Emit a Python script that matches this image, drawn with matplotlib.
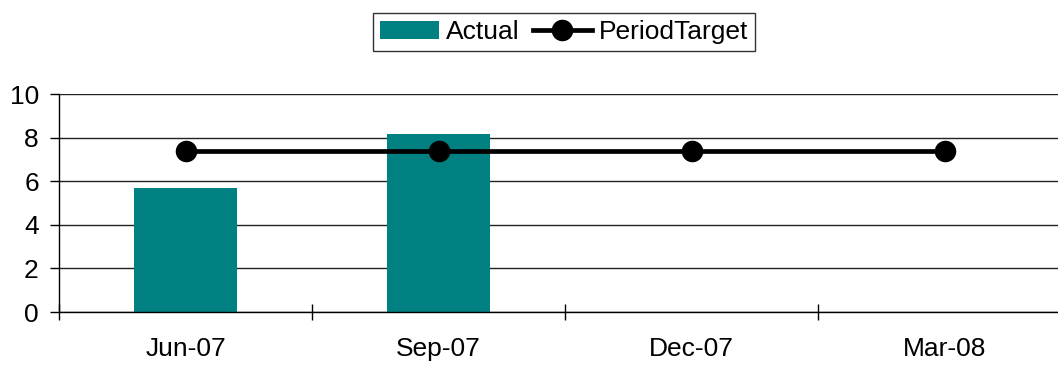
import matplotlib
matplotlib.use('Agg')
import matplotlib.pyplot as plt
import numpy as np

plt.rcParams['font.family'] = ['Liberation Sans', 'DejaVu Sans']

# Data
periods = ['Jun-07', 'Sep-07', 'Dec-07', 'Mar-08']
actual = [5.7, 8.15, np.nan, np.nan]
period_target = [7.4, 7.4, 7.4, 7.4]

fig = plt.figure(figsize=(10.58, 3.65), dpi=100)
# plot area runs past the right edge, as in the original
ax = fig.add_axes([59 / 1058, 53 / 365, 1012 / 1058, 218 / 365])

x = np.arange(len(periods))
bars = ax.bar(x, actual, width=0.41, color='#008080', label='Actual', zorder=2)
line, = ax.plot(x, period_target, color='black', linewidth=3.4, marker='o',
                markersize=14.5, label='PeriodTarget', zorder=3)

ax.set_xlim(-0.5, len(periods) - 0.5)
ax.set_ylim(0, 10)
ax.set_yticks(np.arange(0, 11, 2))
ax.yaxis.grid(True, color='#222222', linewidth=1.0, zorder=0)
ax.set_axisbelow(True)

# category ticks sit between the labels
ax.set_xticks(np.arange(-0.5, len(periods), 1))
ax.set_xticklabels([])
ax.set_xticks(x, minor=True)
ax.set_xticklabels(periods, minor=True)
ax.tick_params(axis='x', which='major', length=11, width=1, direction='inout')
ax.tick_params(axis='x', which='minor', length=0, labelsize=19, pad=18)
ax.tick_params(axis='y', length=6.5, width=1, labelsize=19, pad=8)

for s in ['top', 'right']:
    ax.spines[s].set_visible(False)
ax.spines['left'].set_linewidth(1)
ax.spines['bottom'].set_linewidth(1)

fig.legend([bars, line], ['Actual', 'PeriodTarget'], loc='center',
           bbox_to_anchor=(564 / 1058, 1 - 32 / 365), ncol=2,
           fontsize=19, frameon=True, fancybox=False, edgecolor='black',
           handlelength=2.25, handletextpad=0.25, columnspacing=0.5,
           borderpad=0.25, borderaxespad=0)

fig.savefig('out.png', dpi=100)
